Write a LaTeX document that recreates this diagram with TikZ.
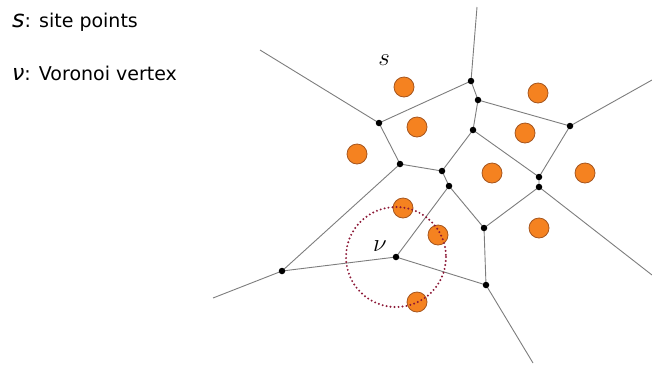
\documentclass[tikz,border=0pt]{standalone}
\usepackage{fontspec}
\setmainfont{DejaVu Sans}
\newfontfamily\obl{DejaVu Sans Oblique}
\definecolor{edgegray}{RGB}{125,125,125}
\definecolor{siteorange}{RGB}{245,130,32}
\definecolor{siteedge}{RGB}{165,85,30}
\definecolor{circred}{RGB}{140,25,55}
\begin{document}
\begin{tikzpicture}[x=1pt,y=-1pt,
  vtx/.style={circle,fill=black,inner sep=0pt,minimum size=6.5pt},
  site/.style={circle,fill=siteorange,draw=siteedge,line width=0.8pt,inner sep=0pt,minimum size=20pt},
  edge/.style={draw=edgegray,line width=0.9pt},
  legend/.style={anchor=base west,inner sep=0pt,font=\fontsize{19}{22}\selectfont}]
\useasboundingbox (0,0) rectangle (652,365);
% legend
\node[legend] (l1) at (12,27) {{\obl\fontsize{24}{24}\selectfont s}: site points};
\node[legend] (l2) at (12,80) {{\obl\fontsize{22}{22}\selectfont ν}: Voronoi vertex};
% Voronoi vertices
\coordinate (A) at (471,81);
\coordinate (B) at (478,100);
\coordinate (C) at (379,123);
\coordinate (D) at (473,130);
\coordinate (E) at (570,126);
\coordinate (F) at (400,164);
\coordinate (G) at (442,171);
\coordinate (H) at (449,186);
\coordinate (I) at (539,177);
\coordinate (J) at (539,187);
\coordinate (K) at (484,228);
\coordinate (V) at (396,257);
\coordinate (L) at (282,271);
\coordinate (M) at (486,285);
% unbounded ends
\coordinate (Ae) at (477,7);
\coordinate (Ce) at (260,50);
\coordinate (Ee) at (652,80);
\coordinate (Je) at (652,275);
\coordinate (Le) at (213,298);
\coordinate (Me) at (533,363);
% edges
\path[edge] (A) -- (B) (A) -- (C) (A) -- (Ae)
  (B) -- (D) (B) -- (E)
  (C) -- (F) (C) -- (Ce)
  (D) -- (G) (D) -- (I)
  (E) -- (I) (E) -- (Ee)
  (F) -- (G) (F) -- (L)
  (G) -- (H)
  (H) -- (V) (H) -- (K)
  (I) -- (J)
  (J) -- (K) (J) -- (Je)
  (K) -- (M)
  (V) -- (L) (V) -- (M)
  (L) -- (Le)
  (M) -- (Me);
% vertex dots
\foreach \p in {A,B,C,D,E,F,G,H,I,J,K,V,L,M}
  \node[vtx] (d\p) at (\p) {};
% sites
\node[site] (s1) at (404,87) {};
\node[site] (s2) at (538,93) {};
\node[site] (s3) at (417,127) {};
\node[site] (s4) at (525,133) {};
\node[site] (s5) at (357,154) {};
\node[site] (s6) at (492,173) {};
\node[site] (s7) at (585,173) {};
\node[site] (s8) at (403,208) {};
\node[site] (s9) at (438,235) {};
\node[site] (s10) at (539,228) {};
\node[site] (s11) at (417,302) {};
% empty circle
\draw[circred,line width=2.2pt,line cap=round,dash pattern=on 0pt off 4pt] (V) circle[radius=50];
% labels
\node[inner sep=0pt] (slab) at (384,60) {\fontsize{25}{25}\selectfont$s$};
\node[inner sep=0pt] (vlab) at (380,246) {\fontsize{25}{25}\selectfont$\nu$};
\end{tikzpicture}
\end{document}
